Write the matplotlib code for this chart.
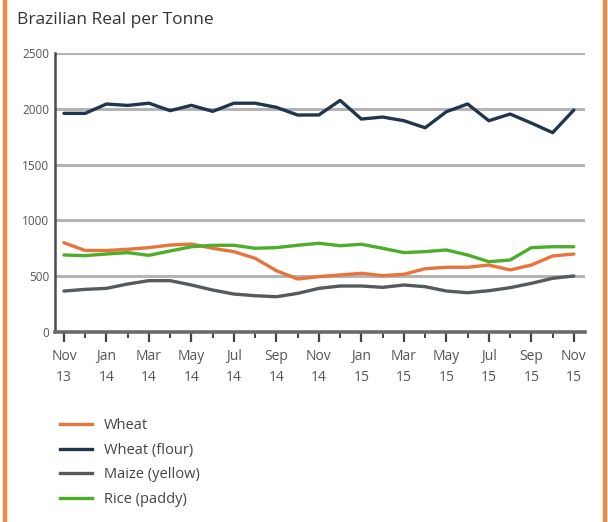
import matplotlib

matplotlib.use("Agg")
import matplotlib.pyplot as plt
from matplotlib.lines import Line2D

plt.rcParams["font.family"] = ["Open Sans", "DejaVu Sans"]

months = list(range(25))
tick_labels = ["Nov\n13", "Jan\n14", "Mar\n14", "May\n14", "Jul\n14", "Sep\n14", "Nov\n14",
               "Jan\n15", "Mar\n15", "May\n15", "Jul\n15", "Sep\n15", "Nov\n15"]

wheat = [800, 730, 730, 741, 756, 779, 788, 750, 720, 660, 549, 475, 496,
         511, 526, 505, 517, 567, 580, 580, 600, 556, 600, 681, 699]
wheat_flour = [1959, 1959, 2043, 2030, 2050, 1983, 2031, 1977, 2050, 2050, 2013, 1944, 1945,
               2075, 1908, 1926, 1893, 1830, 1974, 2043, 1893, 1953, 1872, 1786, 1989]
maize = [367, 382, 391, 430, 460, 460, 421, 376, 340, 325, 316, 346, 391,
         412, 412, 400, 421, 406, 367, 352, 370, 397, 436, 481, 502]
rice = [690, 684, 699, 711, 687, 726, 764, 777, 777, 750, 756, 777, 795,
        773, 786, 750, 711, 720, 735, 690, 630, 645, 756, 764, 764]

series = [
    ("Wheat", wheat, "#e8743b"),
    ("Wheat (flour)", wheat_flour, "#1f3650"),
    ("Maize (yellow)", maize, "#555a5e"),
    ("Rice (paddy)", rice, "#4caf2c"),
]

fig = plt.figure(figsize=(6.08, 5.22), dpi=100)
ax = fig.add_axes([0.0905, 0.364, 0.8715, 0.5345])

for y in [500, 1000, 1500, 2000, 2500]:
    ax.axhline(y, color="#b4b4b4", lw=2.2, zorder=1)

# draw in stacking order seen in the picture
for name, vals, col in [series[2], series[0], series[3], series[1]]:
    ax.plot(months, vals, color=col, lw=2.4, solid_joinstyle="round",
            solid_capstyle="round", zorder=3)

ax.set_xlim(-0.42, 24.52)
ax.set_ylim(0, 2500)
ax.set_yticks([0, 500, 1000, 1500, 2000, 2500])
ax.set_xticks(months[::2])
ax.set_xticklabels(tick_labels)
ax.set_xticks(months[1::2], minor=True)

for s in ["top", "right"]:
    ax.spines[s].set_visible(False)
ax.spines["left"].set_color("#4a4a4a")
ax.spines["left"].set_linewidth(1.8)
ax.spines["bottom"].set_color("#6a6a6a")
ax.spines["bottom"].set_linewidth(2.6)

ax.tick_params(axis="y", length=0, labelsize=8.5, labelcolor="#555555", pad=4)
ax.tick_params(axis="x", which="major", length=7, width=1.6, color="#444444",
               labelsize=10, labelcolor="#555555", pad=5)
ax.tick_params(axis="x", which="minor", length=4, width=1.4, color="#444444")
for lab in ax.get_xticklabels():
    lab.set_linespacing(1.55)

fig.text(0.028, 0.962, "Brazilian Real per Tonne", fontsize=12.5, color="#333333",
         ha="left", va="center")

handles = [Line2D([0], [0], color=c, lw=2.4) for _, _, c in series]
fig.legend(handles, [n for n, _, _ in series], loc="upper left",
           bbox_to_anchor=(0.086, 0.213), frameon=False, fontsize=10.5,
           labelcolor="#444444", handlelength=2.2, handletextpad=0.85,
           labelspacing=0.66, borderpad=0)

# orange side rules of the panel
for xf in [0.0075, 0.9955]:
    fig.add_artist(Line2D([xf, xf], [0, 1], color="#f0884a", lw=3.2,
                          transform=fig.transFigure))

fig.savefig("out.png", dpi=100)
